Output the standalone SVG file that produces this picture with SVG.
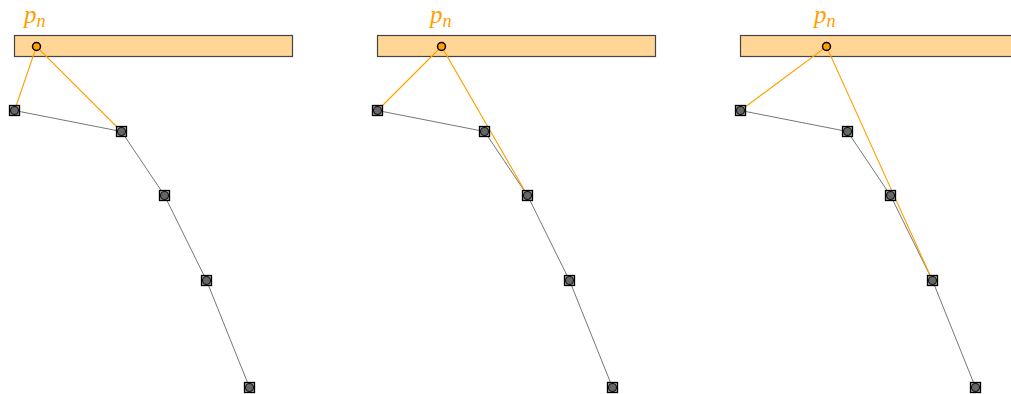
<svg xmlns="http://www.w3.org/2000/svg" width="1011" height="394" viewBox="0 0 1011 394">
<style>
.bar{fill:#FFD696;stroke:#444;stroke-width:1.2}
.chain{fill:none;stroke:#777;stroke-width:1}
.link{fill:none;stroke:#FFA000;stroke-width:1.1}
.pin{fill:#FFA000;stroke:#000;stroke-width:1.5}
.sq{fill:#aaa;stroke:#000;stroke-width:1.3}
.dot{fill:#666;stroke:#111;stroke-width:1.1}
.lbl{font-family:"Liberation Serif","DejaVu Serif",serif;font-style:italic;fill:#FFA000}
</style>
<defs>
<g id="nd"><rect class="sq" x="-5" y="-5" width="10" height="10"/><circle class="dot" cx="0" cy="0" r="4"/></g>
</defs>
<g id="bars">
<rect id="bar1" class="bar" x="14.5" y="35.5" width="278" height="21"/>
<rect id="bar2" class="bar" x="377.5" y="35.5" width="278" height="21"/>
<rect id="bar3" class="bar" x="740.5" y="35.5" width="278" height="21"/>
</g>
<g id="connectors">
<polyline class="chain" points="14.5,110.5 121.5,131.5 164.5,195.5 206.5,280.5 249.5,387.5"/>
<polyline class="chain" points="377.5,110.5 484.5,131.5 527.5,195.5 569.5,280.5 612.5,387.5"/>
<polyline class="chain" points="740.5,110.5 847.5,131.5 890.5,195.5 932.5,280.5 975.5,387.5"/>
<polyline class="link" points="14.5,110.5 36.5,46.5 121.5,131.5"/>
<polyline class="link" points="377.5,110.5 441.5,46.5 527.5,195.5"/>
<polyline class="link" points="740.5,110.5 826.5,46.5 932.5,280.5"/>
</g>
<g id="nodes1">
<use href="#nd" x="14.5" y="110.5"/><use href="#nd" x="121.5" y="131.5"/><use href="#nd" x="164.5" y="195.5"/><use href="#nd" x="206.5" y="280.5"/><use href="#nd" x="249.5" y="387.5"/>
</g>
<g id="nodes2">
<use href="#nd" x="377.5" y="110.5"/><use href="#nd" x="484.5" y="131.5"/><use href="#nd" x="527.5" y="195.5"/><use href="#nd" x="569.5" y="280.5"/><use href="#nd" x="612.5" y="387.5"/>
</g>
<g id="nodes3">
<use href="#nd" x="740.5" y="110.5"/><use href="#nd" x="847.5" y="131.5"/><use href="#nd" x="890.5" y="195.5"/><use href="#nd" x="932.5" y="280.5"/><use href="#nd" x="975.5" y="387.5"/>
</g>
<g id="pins">
<g id="pin1"><circle class="pin" cx="36.5" cy="46.5" r="4"/><text class="lbl" x="24" y="23" font-size="25">p<tspan font-size="18" dy="4">n</tspan></text></g>
<g id="pin2"><circle class="pin" cx="441.5" cy="46.5" r="4"/><text class="lbl" x="430" y="23" font-size="25">p<tspan font-size="18" dy="4">n</tspan></text></g>
<g id="pin3"><circle class="pin" cx="826.5" cy="46.5" r="4"/><text class="lbl" x="814" y="23" font-size="25">p<tspan font-size="18" dy="4">n</tspan></text></g>
</g>
</svg>
